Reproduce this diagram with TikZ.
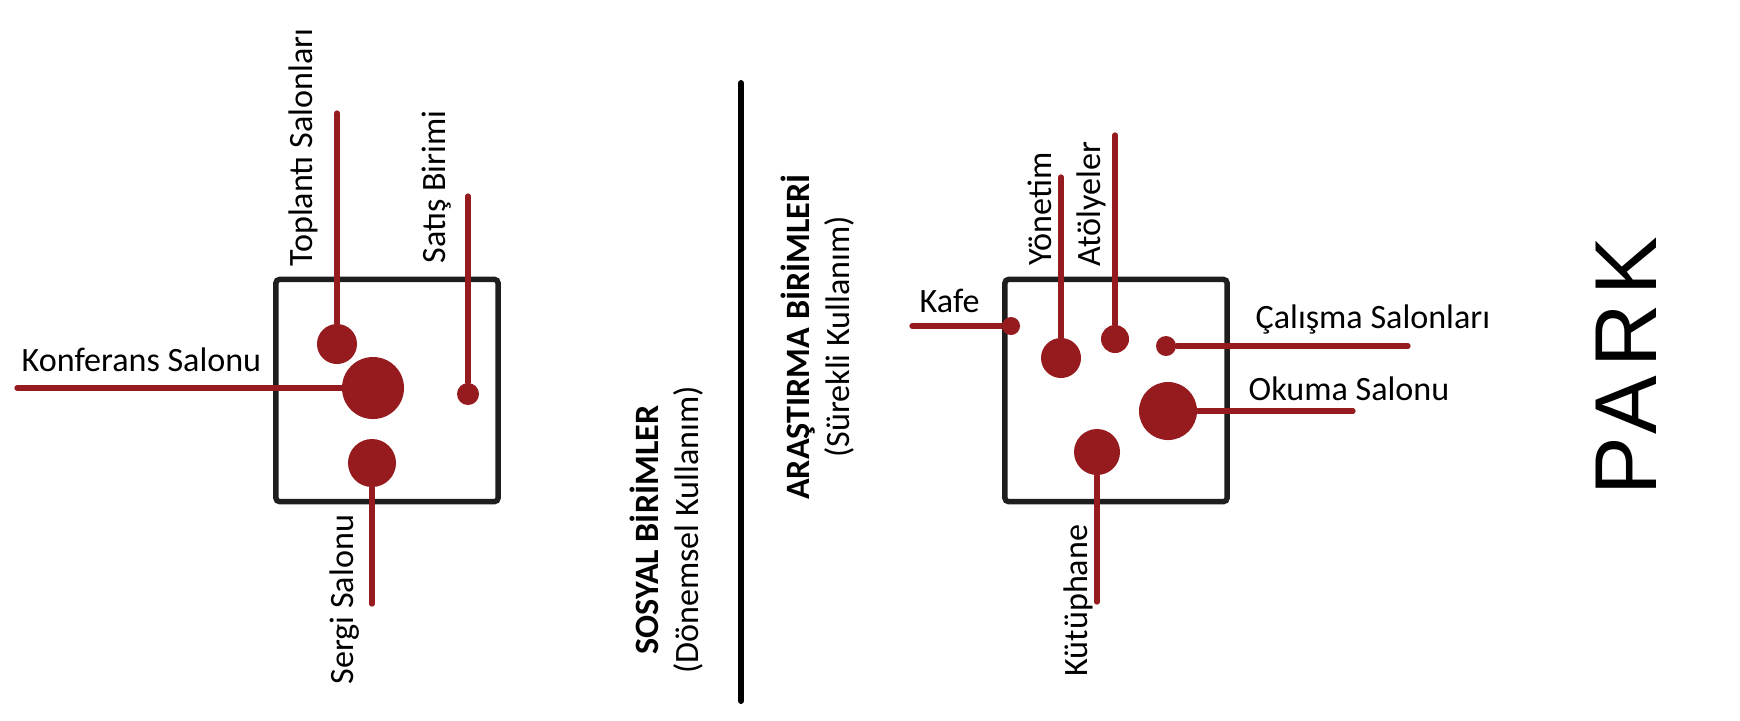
\documentclass[tikz,border=0pt]{standalone}
\usepackage{fontspec}
\setmainfont{Carlito}
\newfontfamily\parkfont[LetterSpace=10]{Liberation Sans}
\definecolor{salonred}{HTML}{961B1F}
\definecolor{boxgray}{HTML}{1E1E1E}

\begin{document}
\begin{tikzpicture}[
        x=0.01cm, y=-0.01cm,
        % Define styles for the components
        box/.style={rectangle, draw=boxgray, line width=1.55pt, rounded corners=1pt, minimum width=2.22cm, minimum height=2.22cm},
        dot/.style={circle, fill=salonred, inner sep=0pt},
        link/.style={draw=salonred, line width=1.5pt, line cap=round},
        lbl/.style={inner sep=0pt, font=\fontsize{9.7}{11.6}\selectfont},
        vlbl/.style={lbl, rotate=90, anchor=base west},
        hlbl/.style={lbl, anchor=base west},
        group/.style={inner sep=0pt, align=center, rotate=90, font=\fontsize{9.7}{11.4}\selectfont},
        divider/.style={draw=black, line width=1.7pt, line cap=round}
    ]
    \useasboundingbox (0,0) rectangle (1740,720);

    % Define nodes
    \node[box] (sosyalbox) at (387,390.5) {};
    \node[box] (arastirmabox) at (1116,390.5) {};

    \node[dot, minimum size=0.40cm] (toplanti) at (337,344) {};
    \node[dot, minimum size=0.62cm] (konferans) at (373,388) {};
    \node[dot, minimum size=0.48cm] (sergi) at (372,463) {};
    \node[dot, minimum size=0.22cm] (satis) at (468,394) {};

    \node[dot, minimum size=0.18cm] (kafe) at (1011,326) {};
    \node[dot, minimum size=0.40cm] (yonetim) at (1061,358) {};
    \node[dot, minimum size=0.28cm] (atolye) at (1115,339) {};
    \node[dot, minimum size=0.20cm] (calisma) at (1166,346) {};
    \node[dot, minimum size=0.58cm] (okuma) at (1168,411) {};
    \node[dot, minimum size=0.46cm] (kutuphane) at (1097,452) {};

    \coordinate (toplantiEnd) at (337,113);
    \coordinate (konferansEnd) at (17,388);
    \coordinate (sergiEnd) at (372,604);
    \coordinate (satisEnd) at (468,196);
    \coordinate (kafeEnd) at (912,326);
    \coordinate (yonetimEnd) at (1061,177);
    \coordinate (atolyeEnd) at (1115,135);
    \coordinate (calismaEnd) at (1408,346);
    \coordinate (okumaEnd) at (1353,411);
    \coordinate (kutuphaneEnd) at (1097,602);
    \coordinate (divTop) at (741,83);
    \coordinate (divBottom) at (741,701);

    % Draw lines
    \draw[link] (toplanti) -- (toplantiEnd);
    \draw[link] (konferans) -- (konferansEnd);
    \draw[link] (sergi) -- (sergiEnd);
    \draw[link] (satis) -- (satisEnd);
    \draw[link] (kafe) -- (kafeEnd);
    \draw[link] (yonetim) -- (yonetimEnd);
    \draw[link] (atolye) -- (atolyeEnd);
    \draw[link] (calisma) -- (calismaEnd);
    \draw[link] (okuma) -- (okumaEnd);
    \draw[link] (kutuphane) -- (kutuphaneEnd);
    \draw[divider] (divTop) -- (divBottom);

    % Add labels
    \node[vlbl] (toplantiLbl) at (312,267) {Toplantı Salonları};
    \node[vlbl] (satisLbl) at (445,264) {Satış Birimi};
    \node[vlbl] (sergiLbl) at (353,685) {Sergi Salonu};
    \node[hlbl] (konferansLbl) at (21,371) {Konferans Salonu};
    \node[hlbl] (kafeLbl) at (919,312) {Kafe};
    \node[vlbl] (yonetimLbl) at (1051,266) {Yönetim};
    \node[vlbl] (atolyeLbl) at (1100,267) {Atölyeler};
    \node[hlbl] (calismaLbl) at (1255,328) {Çalışma Salonları};
    \node[hlbl] (okumaLbl) at (1248,400) {Okuma Salonu};
    \node[vlbl] (kutuphaneLbl) at (1087,677) {Kütüphane};

    \node[group] (sosyal) at (667,530) {\textbf{SOSYAL BİRİMLER}\\(Dönemsel Kullanım)};
    \node[group] (arastirma) at (818,337) {\textbf{ARAŞTIRMA BİRİMLERİ}\\(Sürekli Kullanım)};
    \node[inner sep=0pt, rotate=90, font=\parkfont\fontsize{25}{30}\selectfont] (park) at (1626,366) {PARK};
\end{tikzpicture}
\end{document}
